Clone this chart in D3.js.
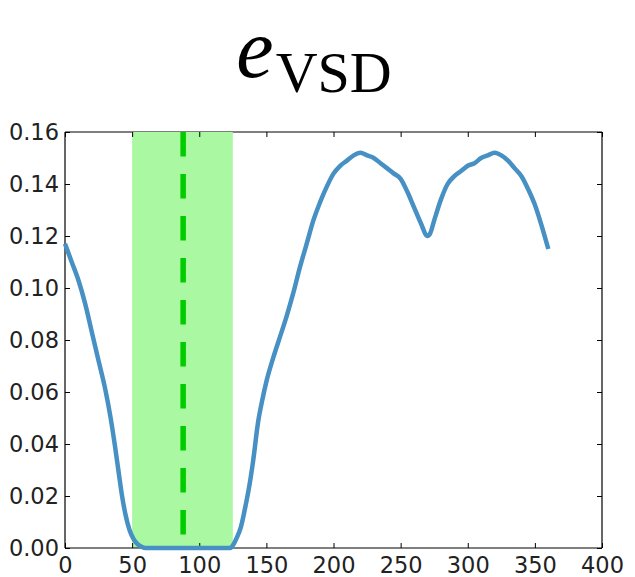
<!DOCTYPE html>
<html>
<head>
<meta charset="utf-8">
<script src="https://cdn.jsdelivr.net/npm/d3@7"></script>
<style>
html,body{margin:0;padding:0;background:#fff;}
svg{display:block;}
</style>
</head>
<body>
<svg id="chart" width="635" height="577"></svg>
<script>
// Data
const xs = [0,5,10,15,20,25,30,34,37,40,42.5,45,48,51,54,57,60,70,80,90,100,110,120,123,125,128,131,134,137,140,144,147,150,155,160,165,170,175,180,185,190,195,200,205,210,215,220,225,230,235,240,245,250,255,260,265,270,272,275,280,285,290,295,300,305,310,315,320,325,330,335,340,345,350,355,360];
const ys = [0.117,0.110,0.103,0.094,0.083,0.072,0.061,0.050,0.040,0.029,0.020,0.013,0.007,0.0035,0.0015,0.0005,0,0,0,0,0,0,0,0,0.001,0.004,0.008,0.015,0.023,0.033,0.049,0.057,0.064,0.073,0.081,0.089,0.098,0.108,0.117,0.126,0.133,0.139,0.144,0.147,0.149,0.151,0.152,0.151,0.150,0.148,0.146,0.144,0.142,0.137,0.131,0.125,0.120,0.121,0.126,0.134,0.140,0.143,0.145,0.147,0.148,0.150,0.151,0.152,0.151,0.149,0.146,0.143,0.138,0.132,0.124,0.115];
const bandRange = [50, 125];
const markerX = [88];
const xTicks = [0,50,100,150,200,250,300,350,400];
const yTicks = [0,0.02,0.04,0.06,0.08,0.10,0.12,0.14,0.16];

const svg = d3.select("#chart");
const L = 65, R = 602, T = 132, B = 548;
const x = d3.scaleLinear().domain([0,400]).range([L,R]);
const y = d3.scaleLinear().domain([0,0.16]).range([B,T]);

// top spine (under band)
svg.append("line").attr("x1",L).attr("x2",R).attr("y1",T).attr("y2",T)
  .attr("stroke","#000").attr("stroke-width",1.2);

// band
svg.append("rect")
  .attr("x", x(bandRange[0])).attr("y", y(0.16))
  .attr("width", x(bandRange[1]) - x(bandRange[0]))
  .attr("height", y(0) - y(0.16))
  .attr("fill", "#aaf8a2");

// axes with inward ticks
const tickLen = 5;
const fmtY = d3.format(".2f");
const axB = svg.append("g").attr("transform",`translate(0,${B})`)
  .call(d3.axisBottom(x).tickValues(xTicks).tickSizeInner(-tickLen).tickSizeOuter(0).tickPadding(9).tickFormat(d3.format("d")));
const axT = svg.append("g").attr("transform",`translate(0,${T})`)
  .call(d3.axisTop(x).tickValues(xTicks).tickSizeInner(-tickLen).tickSizeOuter(0).tickFormat(""));
const axL = svg.append("g").attr("transform",`translate(${L},0)`)
  .call(d3.axisLeft(y).tickValues(yTicks).tickSizeInner(-tickLen).tickSizeOuter(0).tickPadding(6).tickFormat(fmtY));
const axR = svg.append("g").attr("transform",`translate(${R},0)`)
  .call(d3.axisRight(y).tickValues(yTicks).tickSizeInner(-tickLen).tickSizeOuter(0).tickFormat(""));
[axB,axT,axL,axR].forEach(a=>{
  a.select(".domain").remove();
  a.selectAll(".tick line").attr("stroke","#000").attr("stroke-width",1);
  a.selectAll("text").attr("font-family","'DejaVu Sans', sans-serif").attr("font-size",22.5).attr("fill","#222");
});

// left/right/bottom spines
svg.append("line").attr("x1",L).attr("x2",L).attr("y1",T).attr("y2",B).attr("stroke","#000").attr("stroke-width",1.2);
svg.append("line").attr("x1",R).attr("x2",R).attr("y1",T).attr("y2",B).attr("stroke","#000").attr("stroke-width",1.2);
svg.append("line").attr("x1",L).attr("x2",R).attr("y1",B).attr("y2",B).attr("stroke","#000").attr("stroke-width",1.2);

// curve
const pts = xs.map((v,i)=>[v, ys[i]]);
svg.append("path").datum(pts)
  .attr("fill","none").attr("stroke","#4690c4").attr("stroke-width",4.5)
  .attr("stroke-linejoin","round").attr("stroke-linecap","butt")
  .attr("d", d3.line().x(d=>x(d[0])).y(d=>y(d[1])).curve(d3.curveMonotoneX));

// dashed marker
markerX.forEach(m=>{
  svg.append("line").attr("x1",x(m)).attr("x2",x(m)).attr("y1",y(0.16)).attr("y2",y(0))
    .attr("stroke","#00cc00").attr("stroke-width",5.5).attr("stroke-dasharray","24.5 17.5");
});

// title
const title = svg.append("text").attr("x",314).attr("y",77).attr("text-anchor","middle")
  .attr("font-family","'Liberation Serif','DejaVu Serif',serif").attr("fill","#000");
title.append("tspan").attr("font-style","italic").attr("font-size",84).text("e");
title.append("tspan").attr("font-size",58).attr("dy",15).attr("dx",2).text("VSD");
</script>
</body>
</html>
